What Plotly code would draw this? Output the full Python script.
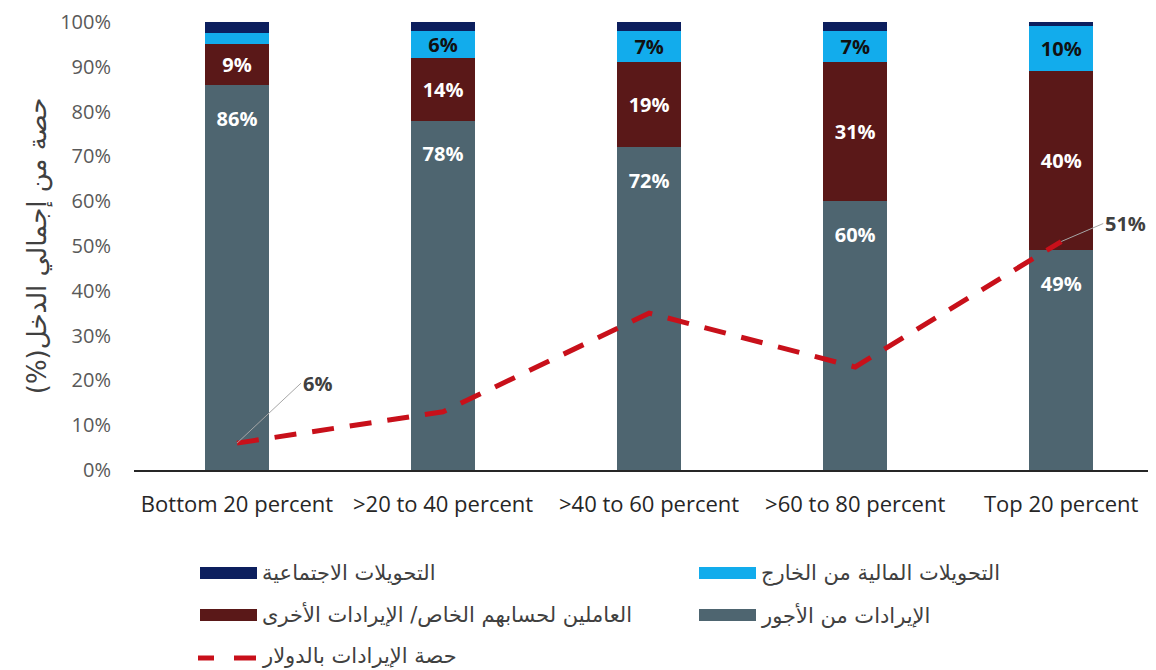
import plotly.graph_objects as go

categories = ["Bottom 20 percent", ">20 to 40 percent", ">40 to 60 percent",
              ">60 to 80 percent", "Top 20 percent"]
wages = [86, 78, 72, 60, 49]
self_emp = [9, 14, 19, 31, 40]
foreign = [2.5, 6, 7, 7, 10]
social = [2.5, 2, 2, 2, 1]
dollar_share = [6, 13, 35, 23, 51]

wage_labels = ["86%", "78%", "72%", "60%", "49%"]
self_labels = ["9%", "14%", "19%", "31%", "40%"]
foreign_labels = ["", "6%", "7%", "7%", "10%"]

names = {
    "social": "التحويلات الاجتماعية",
    "foreign": "التحويلات المالية من الخارج",
    "self": "العاملين لحسابهم الخاص/ الإيرادات الأخرى",
    "wages": "الإيرادات من الأجور",
    "line": "حصة الإيرادات بالدولار",
}
ytitle = "\u202Bحصة من إجمالي الدخل(%)\u202C"

C_WAGE = "#4E6570"
C_SELF = "#5A1818"
C_FOR = "#12ACEC"
C_SOC = "#0C1F5E"
C_LINE = "#C8101A"

FONT = "Open Sans"
BW = 0.31

# page is rendered with an 8px body margin; plot area in page px: x 134..1156, y 22..470
PL, PT, PB = 134, 22, 470
PW, PH = 1022, PB - PT

fig = go.Figure()
fig.add_trace(go.Bar(x=categories, y=wages, name=names["wages"], marker_color=C_WAGE,
                     width=BW, showlegend=False, marker_line_width=0))
fig.add_trace(go.Bar(x=categories, y=self_emp, name=names["self"], marker_color=C_SELF,
                     width=BW, text=self_labels, textposition="inside",
                     insidetextanchor="middle", textangle=0, marker_line_width=0,
                     textfont=dict(color="white", size=20, family=FONT, weight="bold"),
                     showlegend=False))
fig.add_trace(go.Bar(x=categories, y=foreign, name=names["foreign"], marker_color=C_FOR,
                     width=BW, text=foreign_labels, textposition="inside",
                     insidetextanchor="middle", textangle=0, marker_line_width=0,
                     textfont=dict(color="#111111", size=20, family=FONT, weight="bold"),
                     showlegend=False))
fig.add_trace(go.Bar(x=categories, y=social, name=names["social"], marker_color=C_SOC,
                     width=BW, showlegend=False, marker_line_width=0))

# wage labels placed a little below the top of the wage segment
fig.add_trace(go.Scatter(x=categories, y=[w - 8 for w in wages], mode="text",
                         text=wage_labels,
                         textfont=dict(color="white", size=20, family=FONT, weight="bold"),
                         showlegend=False, hoverinfo="skip"))

fig.add_trace(go.Scatter(x=categories, y=dollar_share, name=names["line"], mode="lines",
                         line=dict(color=C_LINE, width=5, dash="22px,16px"),
                         showlegend=False))

# callouts for first and last points
fig.add_annotation(x=categories[0], y=dollar_share[0], text=f"<b>{dollar_share[0]}%</b>",
                   showarrow=True, arrowhead=0, arrowwidth=1, arrowcolor="#A6A6A6",
                   ax=64, ay=-60, xanchor="left", yanchor="middle",
                   font=dict(size=20, color="#404040", family=FONT))
fig.add_annotation(x=categories[4], y=dollar_share[4], text=f"<b>{dollar_share[4]}%</b>",
                   showarrow=True, arrowhead=0, arrowwidth=1, arrowcolor="#A6A6A6",
                   ax=42, ay=-18, xanchor="left", yanchor="middle",
                   font=dict(size=20, color="#404040", family=FONT))

# custom legend
legend_items = [
    ("social", C_SOC, 200, 573),
    ("foreign", C_FOR, 699, 573),
    ("self", C_SELF, 200, 615),
    ("wages", C_WAGE, 699, 615),
]
shapes = []
for key, col, x0, yc in legend_items:
    shapes.append(dict(type="rect", xref="paper", yref="paper",
                       x0=(x0 - PL) / PW, x1=(x0 + 57 - PL) / PW,
                       y0=(PB - (yc + 6)) / PH, y1=(PB - (yc - 6)) / PH,
                       fillcolor=col, line=dict(width=0)))
    fig.add_annotation(xref="paper", yref="paper", x=(x0 + 60 - PL) / PW,
                       y=(PB - yc) / PH, text=names[key], showarrow=False,
                       xanchor="left", yanchor="middle",
                       font=dict(size=21, color="#404040", family="DejaVu Sans"))
for dx0, dx1 in [(198, 214), (234, 256)]:
    shapes.append(dict(type="line", xref="paper", yref="paper",
                       x0=(dx0 - PL) / PW, x1=(dx1 - PL) / PW,
                       y0=(PB - 658) / PH, y1=(PB - 658) / PH,
                       line=dict(color=C_LINE, width=5)))
fig.add_annotation(xref="paper", yref="paper", x=(260 - PL) / PW,
                   y=(PB - 656) / PH, text=names["line"], showarrow=False,
                   xanchor="left", yanchor="middle",
                   font=dict(size=21, color="#404040", family="DejaVu Sans"))

fig.update_layout(
    barmode="stack",
    width=1148, height=662,
    margin=dict(l=PL - 8, r=0, t=PT - 8, b=662 - (PB - 8), autoexpand=False),
    paper_bgcolor="white", plot_bgcolor="white",
    font=dict(family=FONT, color="#404040"),
    shapes=shapes,
    showlegend=False,
    uniformtext=dict(minsize=20, mode="show"),
)
fig.update_xaxes(range=[-0.5, 4.46], showline=True, linecolor="#262626", linewidth=1.5,
                 ticks="outside", ticklen=14, tickcolor="rgba(0,0,0,0)", automargin=False,
                 tickfont=dict(size=22, color="#262626", family=FONT), showgrid=False)
fig.update_yaxes(range=[0, 100], tickvals=list(range(0, 101, 10)),
                 ticktext=[f"{v}%" for v in range(0, 101, 10)],
                 ticklabeloverflow="allow", automargin=False,
                 tickfont=dict(size=20, color="#595959", family=FONT), showgrid=False,
                 zeroline=False, ticks="outside", ticklen=18, tickcolor="rgba(0,0,0,0)",
                 title=dict(text=ytitle, font=dict(size=26, color="#404040", family="DejaVu Sans"),
                            standoff=6))

fig.write_html("out.html")
